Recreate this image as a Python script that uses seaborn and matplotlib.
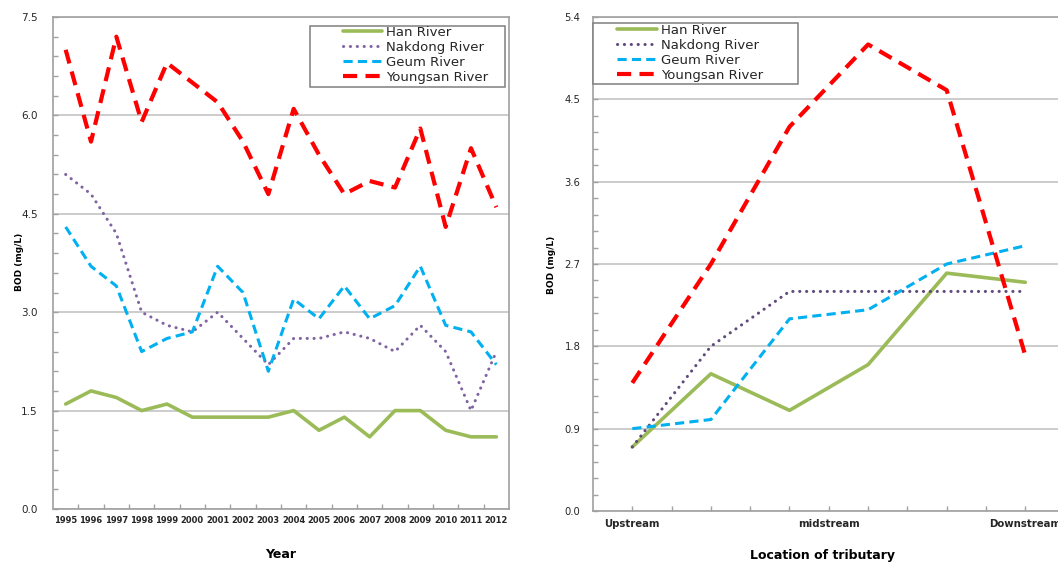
import numpy as np
import pandas as pd
import matplotlib
matplotlib.use("Agg")
import matplotlib.pyplot as plt
import seaborn as sns
from matplotlib.patches import Rectangle
from matplotlib.ticker import MultipleLocator, FixedLocator, FormatStrFormatter

# data - yearly BOD (mg/L)
years = list(range(1995, 2013))
han_year = [1.6, 1.8, 1.7, 1.5, 1.6, 1.4, 1.4, 1.4, 1.4, 1.5, 1.2, 1.4, 1.1, 1.5, 1.5, 1.2, 1.1, 1.1]
nakdong_year = [5.1, 4.8, 4.2, 3.0, 2.8, 2.7, 3.0, 2.6, 2.2, 2.6, 2.6, 2.7, 2.6, 2.4, 2.8, 2.4, 1.5, 2.4]
geum_year = [4.3, 3.7, 3.4, 2.4, 2.6, 2.7, 3.7, 3.3, 2.1, 3.2, 2.9, 3.4, 2.9, 3.1, 3.7, 2.8, 2.7, 2.2]
youngsan_year = [7.0, 5.6, 7.2, 5.9, 6.8, 6.5, 6.2, 5.6, 4.8, 6.1, 5.4, 4.8, 5.0, 4.9, 5.8, 4.3, 5.5, 4.6]

# data - BOD along the tributary
location_pos = [0, 2, 4, 6, 8, 10]
location_labels = ["Upstream", "", "", "", "", "midstream", "", "", "", "", "Downstream"]
han_loc = [0.7, 1.5, 1.1, 1.6, 2.6, 2.5]
nakdong_loc = [0.7, 1.8, 2.4, 2.4, 2.4, 2.4]
geum_loc = [0.9, 1.0, 2.1, 2.2, 2.7, 2.9]
youngsan_loc = [1.4, 2.7, 4.2, 5.1, 4.6, 1.7]

rivers = ["Han River", "Nakdong River", "Geum River", "Youngsan River"]

sns.set_style("white")
plt.rcParams["font.family"] = ["DejaVu Sans"]

grid_c = "#BEBEBE"
spine_c = "#A0A0A0"
txt_c = "#262626"

styles = {
    "Han River": dict(color="#9BBB59", lw=2.6, linestyle="-"),
    "Nakdong River": dict(color="#8064A2", lw=2.2, linestyle=(0, (0.05, 2.2)), dash_capstyle="round"),
    "Geum River": dict(color="#00B0F0", lw=2.2, linestyle=(0, (3.0, 1.7))),
    "Youngsan River": dict(color="#FF0000", lw=3.0, linestyle=(0, (3.4, 2.0))),
}

fig = plt.figure(figsize=(10.58, 5.62), dpi=100)
ax1 = fig.add_axes([53 / 1058, 1 - 509 / 562, 456 / 1058, 492 / 562])
ax2 = fig.add_axes([593 / 1058, 1 - 511 / 562, 471.6 / 1058, 494 / 562])


def style_axes(ax):
    ax.set_axisbelow(True)
    ax.yaxis.grid(True, which="major", color=grid_c, lw=1.1)
    ax.xaxis.grid(False)
    for s in ax.spines.values():
        s.set_color(spine_c)
        s.set_linewidth(1.2)
    ax.tick_params(which="both", direction="in", length=3.5, width=1,
                   left=True, bottom=True, labelcolor=txt_c, color=spine_c)
    ax.set_xlabel("")
    ax.set_ylabel("")


# left panel
year_vals = [han_year, nakdong_year, geum_year, youngsan_year]
for name, vals in zip(rivers, year_vals):
    sns.lineplot(x=years, y=vals, ax=ax1, label=name, **styles[name])

ax1.set_xlim(1994.5, 2012.5)
ax1.set_ylim(0, 7.5)
style_axes(ax1)
ax1.set_xticks(years)
ax1.set_xticklabels([str(y) for y in years], fontsize=6, fontweight="bold")
ax1.xaxis.set_minor_locator(FixedLocator(np.arange(1995.5, 2012.5, 1)))
ax1.tick_params(axis="x", which="major", length=0, pad=5)
ax1.yaxis.set_major_locator(MultipleLocator(1.5))
ax1.yaxis.set_minor_locator(MultipleLocator(0.3))
ax1.yaxis.set_major_formatter(FormatStrFormatter("%.1f"))
ax1.tick_params(axis="y", which="major", labelsize=7.5, pad=11)
fig.text(20 / 1058, 1 - 262 / 562, "BOD (mg/L)", rotation=90, ha="center", va="center",
         fontsize=6.5, fontweight="bold", color="black")
fig.text(281 / 1058, 1 - 554 / 562, "Year", ha="center", va="center",
         fontsize=9, fontweight="bold", color="black")

# right panel
loc_vals = [han_loc, nakdong_loc, geum_loc, youngsan_loc]
for name, vals in zip(rivers, loc_vals):
    st = dict(styles[name])
    if name == "Nakdong River":
        st["color"] = "#604A7B"
    sns.lineplot(x=location_pos, y=vals, ax=ax2, label=name, **st)

ax2.set_xlim(-1, 11)
ax2.set_ylim(0, 5.4)
style_axes(ax2)
ax2.set_xticks(range(len(location_labels)))
ax2.set_xticklabels(location_labels, fontsize=7.3, fontweight="bold")
ax2.tick_params(axis="x", which="major", pad=6)
ax2.yaxis.set_major_locator(MultipleLocator(0.9))
ax2.yaxis.set_minor_locator(MultipleLocator(0.18))
ax2.yaxis.set_major_formatter(FormatStrFormatter("%.1f"))
ax2.tick_params(axis="y", which="major", labelsize=7.2, pad=9)
fig.text(552 / 1058, 1 - 265 / 562, "BOD (mg/L)", rotation=90, ha="center", va="center",
         fontsize=6.5, fontweight="bold", color="black")
fig.text(823 / 1058, 1 - 555 / 562, "Location of tributary", ha="center", va="center",
         fontsize=9, fontweight="bold", color="black")


def add_legend(ax, box, anchor):
    ax.add_patch(Rectangle((box[0], box[1]), box[2], box[3], transform=ax.transAxes,
                           facecolor="white", edgecolor="#7F7F7F", lw=1.1, zorder=4,
                           clip_on=False))
    leg = ax.legend(loc="upper left", bbox_to_anchor=anchor, frameon=False, fontsize=9.5,
                    handlelength=3.0, handletextpad=0.3, labelspacing=0.15, borderpad=0,
                    borderaxespad=0)
    leg.set_zorder(5)
    for t in leg.get_texts():
        t.set_color(txt_c)


add_legend(ax1, (0.564, 0.858, 0.428, 0.124), (0.635, 0.982))
add_legend(ax2, (0.0, 0.864, 0.435, 0.1235), (0.051, 0.986))

fig.savefig("out.png", dpi=100)
